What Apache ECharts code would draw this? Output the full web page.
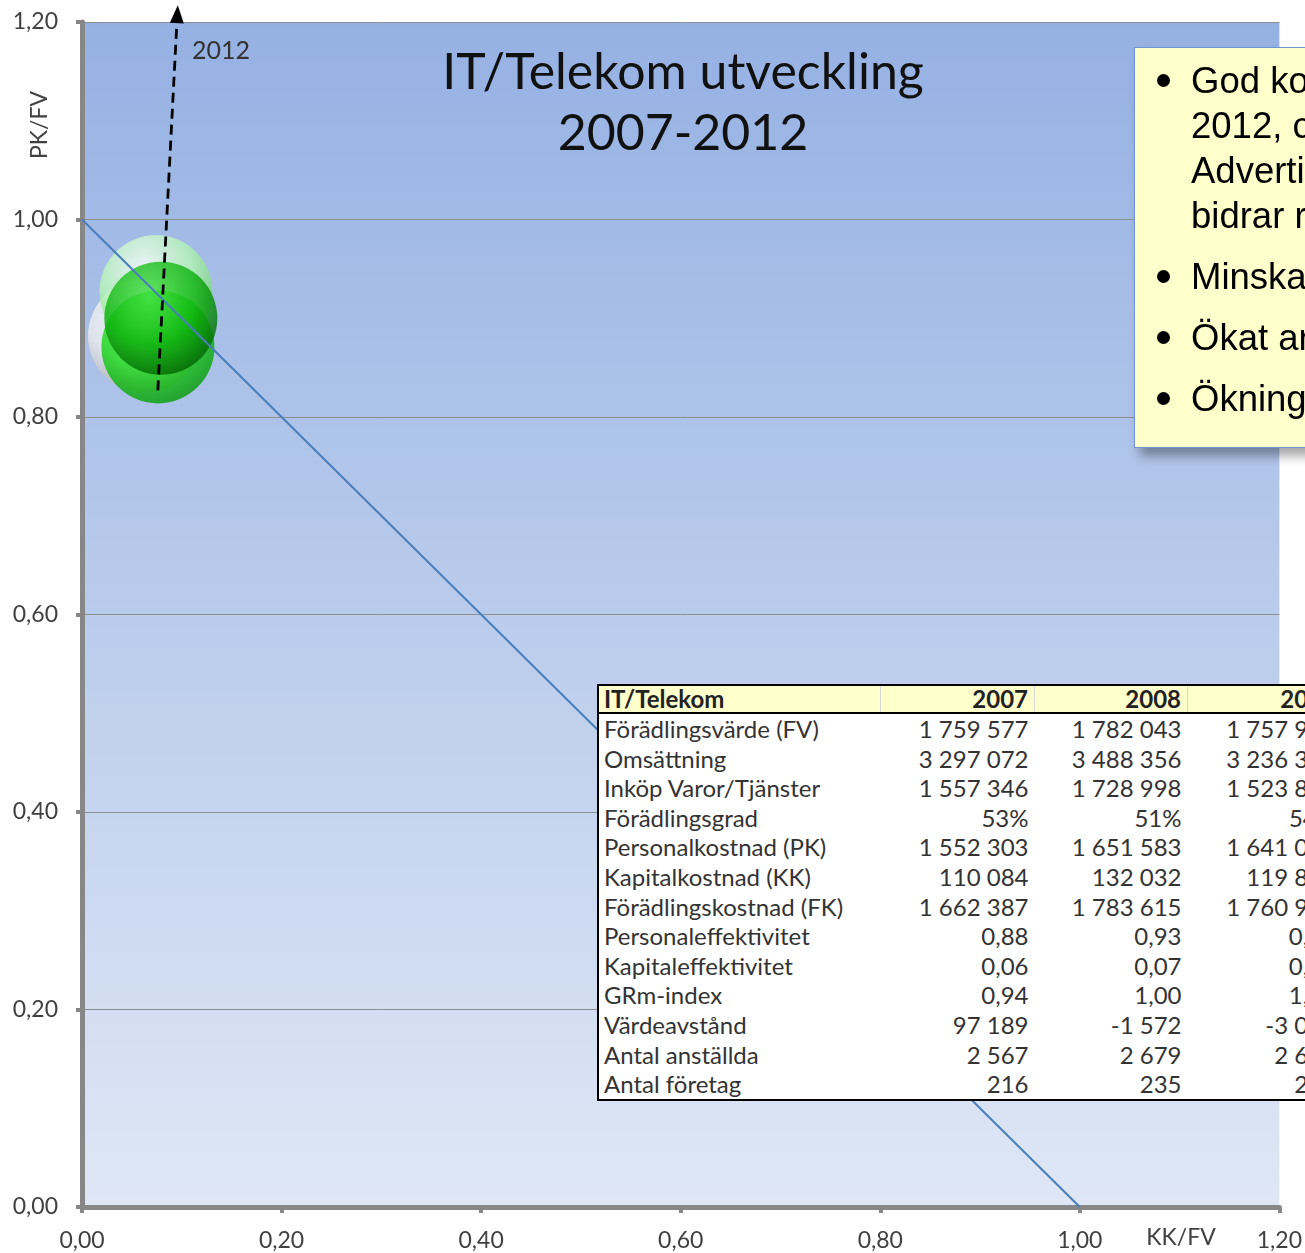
<!DOCTYPE html>
<html>
<head>
<meta charset="utf-8">
<script src="https://cdn.jsdelivr.net/npm/echarts@6/dist/echarts.min.js"></script>
<style>
  html, body { margin: 0; padding: 0; width: 1305px; height: 1253px; overflow: hidden; background: #fff; }
  #chart { position: absolute; left: 0; top: 0; width: 1305px; height: 1253px; }
  #note {
    position: absolute; left: 1134px; top: 47px; width: 420px; height: 401px;
    background: #ffffcc; border: 1px solid #6f94d0;
    box-shadow: 6px 8px 10px rgba(0,0,0,0.35);
    font-family: "Liberation Sans", Arial, sans-serif; font-size: 36.5px; line-height: 45px; color: #000;
    box-sizing: border-box; padding-top: 10px;
  }
  #note p { margin: 0 0 16px 0; padding-left: 56px; position: relative; white-space: nowrap; }
  #note p:before { content: ""; position: absolute; left: 22px; top: 16px; width: 13px; height: 13px; border-radius: 50%; background: #000; }
  #tbl {
    position: absolute; left: 597px; top: 684px; width: 744px; table-layout: fixed;
    border-collapse: collapse; border: 2px solid #000; background: #fff;
    font-family: Lato, "Noto Sans", sans-serif; font-size: 24px; color: #333;
  }
  #tbl td, #tbl th { padding: 0 6px 0 5px; white-space: nowrap; overflow: hidden; }
  #tbl tr.body td { height: 29.6px; line-height: 29.6px; }
  #tbl th { background: #ffffcc; font-weight: bold; text-align: right; border-bottom: 2px solid #000;
    border-left: 1px solid #d8d8d8; height: 26px; line-height: 26px; color: #222; }
  #tbl th:first-child { text-align: left; border-left: none; }
  #tbl td { text-align: right; }
  #tbl td:first-child { text-align: left; }
  .c0 { width: 270px; } .c1 { width: 142px; } .c2 { width: 141px; } .c3 { width: 143px; }
  .pad { visibility: hidden; }
</style>
</head>
<body>
<div id="chart"></div>
<div id="note">
  <p>God ko<br>2012, c<br>Adverti<br>bidrar r</p>
  <p>Minska</p>
  <p>Ökat ar</p>
  <p>Ökning</p>
</div>
<table id="tbl"></table>
<script>
// bubblor: år, KK/FV (x), PK/FV (y)
const years = ['2007', '2008', '2009', '2010'];
const kkFv = [0.0626, 0.0741, 0.0761, 0.0790];
const pkFv = [0.882, 0.927, 0.871, 0.900];

// referenslinje PK/FV + KK/FV = 1
const diagX = [0, 1];
const diagY = [1, 0];

// trendpil mot 2012
const trendStart = [0.076, 0.827];
const trendEnd = [0.096, 1.217];

// tabell
const tableHead = ['IT/Telekom', '2007', '2008', '2009'];
const rowLabels = ['Förädlingsvärde (FV)', 'Omsättning', 'Inköp Varor/Tjänster', 'Förädlingsgrad',
  'Personalkostnad (PK)', 'Kapitalkostnad (KK)', 'Förädlingskostnad (FK)', 'Personaleffektivitet',
  'Kapitaleffektivitet', 'GRm-index', 'Värdeavstånd', 'Antal anställda', 'Antal företag'];
const col2007 = ['1 759 577', '3 297 072', '1 557 346', '53%', '1 552 303', '110 084', '1 662 387',
  '0,88', '0,06', '0,94', '97 189', '2 567', '216'];
const col2008 = ['1 782 043', '3 488 356', '1 728 998', '51%', '1 651 583', '132 032', '1 783 615',
  '0,93', '0,07', '1,00', '-1 572', '2 679', '235'];
// bara det som syns i bilden
const col2009 = ['1 757 9', '3 236 3', '1 523 8', '54', '1 641 0', '119 8', '1 760 9',
  '0,', '0,', '1,', '-3 0', '2 6', '2'];
const col2009Hidden = ['00', '00', '00', '%', '00', '00', '00', '00', '00', '00', '00', '00', '00'];

// bygg tabellen
const tbl = document.getElementById('tbl');
let html = '<tr>' + tableHead.map((h, i) => `<th class="c${i}">${h}</th>`).join('') + '</tr>';
rowLabels.forEach((lab, i) => {
  html += `<tr class="body"><td>${lab}</td><td>${col2007[i]}</td><td>${col2008[i]}</td>` +
    `<td>${col2009[i]}<span class="pad">${col2009Hidden[i]}</span></td></tr>`;
});
tbl.innerHTML = html;

// stil per bubbla
const sphere = (c0, c1, c2) => ({
  type: 'radial', x: 0.4, y: 0.3, r: 0.75,
  colorStops: [{ offset: 0, color: c0 }, { offset: 0.55, color: c1 }, { offset: 1, color: c2 }]
});
const bubbleColors = [
  sphere('#ffffff', '#ececec', '#a8a8a8'),
  sphere('#ffffff', '#b4f5b4', '#66c866'),
  sphere('#52f252', '#16d616', '#009400'),
  sphere('#40e040', '#0bb20b', '#005a00')
];

const fmt = v => v.toFixed(2).replace('.', ',');
const labelFont = { fontFamily: 'Lato', fontSize: 23, color: '#404040' };

const chart = echarts.init(document.getElementById('chart'));
chart.setOption({
  animation: false,
  grid: {
    left: 82, right: 24, top: 22, bottom: 46,
    show: true, borderWidth: 0,
    backgroundColor: {
      type: 'linear', x: 0, y: 0, x2: 0, y2: 1,
      colorStops: [{ offset: 0, color: '#95b1e3' }, { offset: 1, color: '#dfe7f5' }]
    }
  },
  xAxis: {
    type: 'value', min: 0, max: 1.2, interval: 0.2,
    axisLine: { lineStyle: { color: '#878787', width: 5 } },
    axisTick: { show: true, length: 6, lineStyle: { color: '#878787', width: 4 } },
    axisLabel: Object.assign({ formatter: fmt, margin: 22 }, labelFont),
    splitLine: { show: false }
  },
  yAxis: {
    type: 'value', min: 0, max: 1.2, interval: 0.2,
    axisLine: { show: true, lineStyle: { color: '#878787', width: 5 } },
    axisTick: { show: true, length: 6, lineStyle: { color: '#878787', width: 4 } },
    axisLabel: Object.assign({ formatter: fmt, margin: 24 }, labelFont),
    splitLine: { show: true, lineStyle: { color: '#8e8e8e', width: 1 } }
  },
  graphic: [
    { type: 'text', x: 683, y: 103, z: 10,
      style: { text: 'IT/Telekom utveckling\n2007-2012', align: 'center', verticalAlign: 'middle',
        font: '50px Lato', lineHeight: 61, fill: '#111' } },
    { type: 'text', x: 40, y: 125, rotation: Math.PI / 2, z: 10,
      style: { text: 'PK/FV', align: 'center', verticalAlign: 'middle', font: '23px Lato', fill: '#404040' } },
    { type: 'text', x: 1181, y: 1238, z: 10,
      style: { text: 'KK/FV', align: 'center', verticalAlign: 'middle', font: '23px Lato', fill: '#404040' } },
    { type: 'text', x: 192, y: 51, z: 10,
      style: { text: '2012', align: 'left', verticalAlign: 'middle', font: '25px Lato', fill: '#333' } }
  ],
  series: [
    {
      name: 'Bubblor', type: 'scatter', z: 2,
      symbolSize: 113,
      data: years.map((y, i) => ({
        name: y, value: [kkFv[i], pkFv[i]],
        itemStyle: { color: bubbleColors[i] }
      })),
      emphasis: { disabled: true }
    },
    {
      name: 'Referens', type: 'line', z: 3,
      data: diagX.map((x, i) => [x, diagY[i]]),
      showSymbol: false,
      lineStyle: { color: '#4a7ebb', width: 2 }
    },
    {
      name: 'Trend', type: 'custom', z: 4, clip: false,
      encode: { x: [0, 2], y: [1, 3] },
      data: [[trendStart[0], trendStart[1], trendEnd[0], trendEnd[1]]],
      renderItem: function (params, api) {
        const p0 = api.coord([api.value(0), api.value(1)]);
        const p1 = api.coord([api.value(2), api.value(3)]);
        const dx = p1[0] - p0[0], dy = p1[1] - p0[1];
        const len = Math.sqrt(dx * dx + dy * dy);
        const ux = dx / len, uy = dy / len;
        const hl = 18, hw = 7;
        const bx = p1[0] - ux * hl, by = p1[1] - uy * hl;
        return {
          type: 'group',
          children: [
            { type: 'line', shape: { x1: p0[0], y1: p0[1], x2: bx, y2: by },
              style: { stroke: '#000', lineWidth: 2.8, lineDash: [10, 6] } },
            { type: 'polygon',
              shape: { points: [[p1[0], p1[1]], [bx - uy * hw, by + ux * hw], [bx + uy * hw, by - ux * hw]] },
              style: { fill: '#000' } }
          ]
        };
      }
    }
  ]
});
</script>
</body>
</html>
